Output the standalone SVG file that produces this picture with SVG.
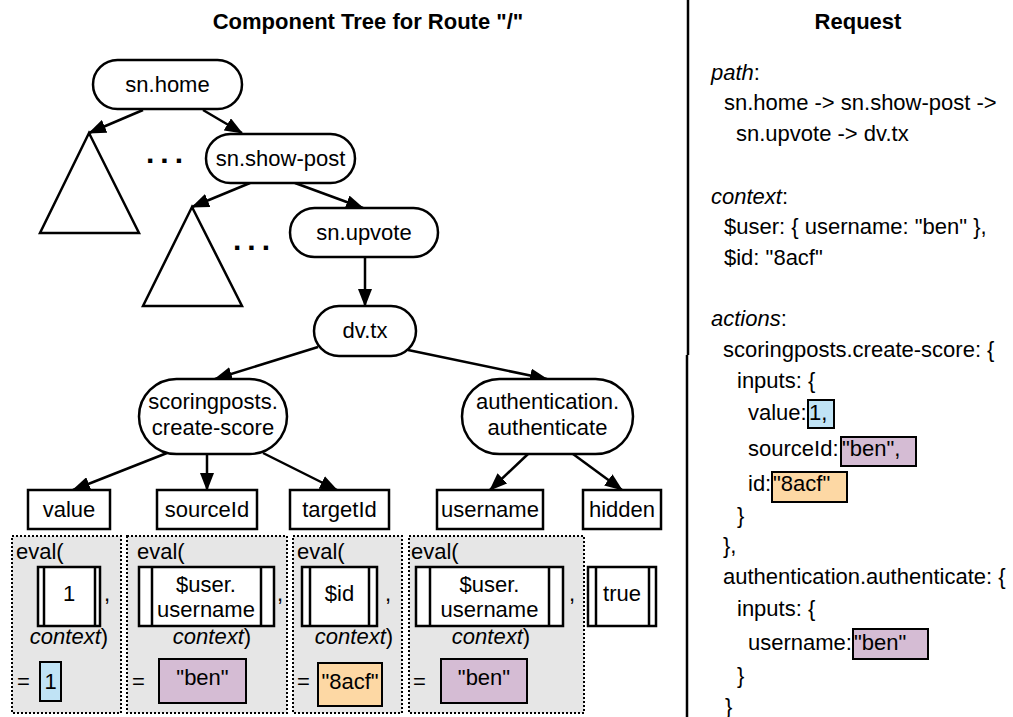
<svg xmlns="http://www.w3.org/2000/svg" width="1013" height="717" viewBox="0 0 1013 717">
<style>
.t{font-family:"Liberation Sans",Arial,sans-serif;font-size:22px;fill:#000}
.m{text-anchor:middle}
.b{font-weight:bold}
.i{font-style:italic}
.n{fill:#fff;stroke:#000;stroke-width:2.5}
.c{stroke:#000;stroke-width:2.5;fill:none;marker-end:url(#ah)}
.p{fill:#e6e6e6;stroke:#000;stroke-width:2;stroke-dasharray:2 2}
.cb{fill:#fff;stroke:#000;stroke-width:2.5}
.bl{fill:#c0e3f5;stroke:#000;stroke-width:2}
.pu{fill:#d5bcd4;stroke:#000;stroke-width:2}
.or{fill:#fdd8a4;stroke:#000;stroke-width:2}
.dots{font-family:"Liberation Sans",Arial,sans-serif;font-size:30px;font-weight:bold;letter-spacing:6px}
</style>
<defs>
<marker id="ah" markerUnits="userSpaceOnUse" markerWidth="18" markerHeight="14" viewBox="0 0 18 14" refX="17" refY="7" orient="auto">
<path d="M0,0 L18,7 L0,14 z" fill="#000"/>
</marker>
</defs>
<rect width="1013" height="717" fill="#fff"/>

<text class="t b m" x="368" y="29">Component Tree for Route "/"</text>
<text class="t b m" x="858" y="29">Request</text>
<g id="divider">
<line x1="688" y1="0" x2="688" y2="355" stroke="#000" stroke-width="2.5"/>
<line x1="687" y1="355" x2="687" y2="717" stroke="#000" stroke-width="2.5"/>
</g>

<g id="connectors">
<line class="c" x1="143" y1="110" x2="89" y2="133"/>
<line class="c" x1="203" y1="110" x2="242" y2="133"/>
<line class="c" x1="250" y1="183" x2="192" y2="207"/>
<line class="c" x1="295" y1="183" x2="363" y2="208"/>
<line class="c" x1="365" y1="257" x2="365" y2="306"/>
<line class="c" x1="318" y1="347" x2="215" y2="379"/>
<line class="c" x1="408" y1="350" x2="547" y2="379"/>
<line class="c" x1="167" y1="453" x2="73" y2="490"/>
<line class="c" x1="207" y1="454" x2="207" y2="490"/>
<line class="c" x1="263" y1="453" x2="337" y2="490"/>
<line class="c" x1="528" y1="454" x2="490" y2="490"/>
<line class="c" x1="573" y1="454" x2="622" y2="490"/>
</g>

<g id="sn-home"><rect class="n" x="93" y="60" width="149" height="49" rx="24.5"/><text class="t m" x="167.5" y="92">sn.home</text></g>
<g id="subtree-1"><polygon class="n" points="89,133 40,233 139,233"/></g>
<g id="dots-1"><text class="dots" x="146" y="163">...</text></g>
<g id="sn-show-post"><rect class="n" x="206" y="134" width="149" height="49" rx="24.5"/><text class="t m" x="280.5" y="166">sn.show-post</text></g>
<g id="subtree-2"><polygon class="n" points="192,207 143,306 242,306"/></g>
<g id="dots-2"><text class="dots" x="233" y="250">...</text></g>
<g id="sn-upvote"><rect class="n" x="290" y="208" width="148" height="49" rx="24.5"/><text class="t m" x="364" y="240">sn.upvote</text></g>
<g id="dv-tx"><rect class="n" x="314" y="306" width="102" height="50" rx="25"/><text class="t m" x="365" y="338">dv.tx</text></g>
<g id="scoringposts"><rect class="n" x="139" y="379" width="148" height="75" rx="37.5"/><text class="t m" x="213" y="409">scoringposts.</text><text class="t m" x="213" y="435">create-score</text></g>
<g id="authentication"><rect class="n" x="462" y="379" width="171" height="75" rx="37.5"/><text class="t m" x="547.5" y="409">authentication.</text><text class="t m" x="547.5" y="435">authenticate</text></g>

<g id="leaf-value"><rect class="n" x="28" y="490" width="82" height="39"/><text class="t m" x="69" y="517">value</text></g>
<g id="leaf-sourceId"><rect class="n" x="157" y="490" width="100" height="39"/><text class="t m" x="207" y="517">sourceId</text></g>
<g id="leaf-targetId"><rect class="n" x="290" y="490" width="99" height="39"/><text class="t m" x="339.5" y="517">targetId</text></g>
<g id="leaf-username"><rect class="n" x="437" y="490" width="106" height="39"/><text class="t m" x="490" y="517">username</text></g>
<g id="leaf-hidden"><rect class="n" x="583" y="490" width="78" height="39"/><text class="t m" x="622" y="517">hidden</text></g>

<g id="eval-value">
<rect class="p" x="12" y="536" width="109" height="177"/>
<text class="t" x="16" y="559">eval(</text>
<rect class="cb" x="38" y="567" width="62" height="59"/>
<line x1="44" y1="567" x2="44" y2="626" stroke="#000" stroke-width="2.5"/>
<line x1="95" y1="567" x2="95" y2="626" stroke="#000" stroke-width="2.5"/>
<text class="t m" x="69" y="601">1</text>
<text class="t" x="104" y="601">,</text>
<text class="t m" x="69" y="644"><tspan class="i">context</tspan>)</text>
<text class="t" x="17" y="689">=</text>
<rect class="bl" x="40" y="662" width="21" height="39"/>
<text class="t m" x="50.5" y="689">1</text>
</g>

<g id="eval-sourceId">
<rect class="p" x="127" y="536" width="160" height="177"/>
<text class="t" x="137" y="559">eval(</text>
<rect class="cb" x="139" y="567" width="135" height="59"/>
<line x1="152" y1="567" x2="152" y2="626" stroke="#000" stroke-width="2.5"/>
<line x1="261" y1="567" x2="261" y2="626" stroke="#000" stroke-width="2.5"/>
<text class="t m" x="206" y="592">$user.</text>
<text class="t m" x="206" y="617">username</text>
<text class="t" x="277" y="601">,</text>
<text class="t m" x="212" y="644"><tspan class="i">context</tspan>)</text>
<text class="t" x="132" y="689">=</text>
<rect class="pu" x="159" y="659" width="87" height="44"/>
<text class="t m" x="202.5" y="685">"ben"</text>
</g>

<g id="eval-targetId">
<rect class="p" x="293" y="536" width="109" height="177"/>
<text class="t" x="297" y="559">eval(</text>
<rect class="cb" x="302" y="567" width="75" height="59"/>
<line x1="310" y1="567" x2="310" y2="626" stroke="#000" stroke-width="2.5"/>
<line x1="369" y1="567" x2="369" y2="626" stroke="#000" stroke-width="2.5"/>
<text class="t m" x="339.5" y="601">$id</text>
<text class="t" x="385" y="601">,</text>
<text class="t m" x="354" y="644"><tspan class="i">context</tspan>)</text>
<text class="t" x="297" y="689">=</text>
<rect class="or" x="318" y="663" width="64" height="43"/>
<text class="t m" x="350" y="689">"8acf"</text>
</g>

<g id="eval-username">
<rect class="p" x="409" y="536" width="175" height="177"/>
<text class="t" x="411" y="559">eval(</text>
<rect class="cb" x="416" y="567" width="147" height="59"/>
<line x1="430" y1="567" x2="430" y2="626" stroke="#000" stroke-width="2.5"/>
<line x1="549" y1="567" x2="549" y2="626" stroke="#000" stroke-width="2.5"/>
<text class="t m" x="489.5" y="592">$user.</text>
<text class="t m" x="489.5" y="617">username</text>
<text class="t" x="569" y="601">,</text>
<text class="t m" x="491" y="644"><tspan class="i">context</tspan>)</text>
<text class="t" x="413" y="689">=</text>
<rect class="pu" x="441" y="659" width="86" height="44"/>
<text class="t m" x="484" y="685">"ben"</text>
</g>

<g id="value-hidden">
<rect class="cb" x="588" y="567" width="68" height="59"/>
<line x1="596" y1="567" x2="596" y2="626" stroke="#000" stroke-width="2.5"/>
<line x1="649" y1="567" x2="649" y2="626" stroke="#000" stroke-width="2.5"/>
<text class="t m" x="622" y="601">true</text>
</g>

<g id="request">
<text class="t" x="711" y="80"><tspan class="i">path</tspan>:</text>
<text class="t" x="724" y="110">sn.home -&gt; sn.show-post -&gt;</text>
<text class="t" x="736" y="141">sn.upvote -&gt; dv.tx</text>
<text class="t" x="711" y="204"><tspan class="i">context</tspan>:</text>
<text class="t" x="724" y="234">$user: { username: "ben" },</text>
<text class="t" x="724" y="265">$id: "8acf"</text>
<text class="t" x="711" y="326"><tspan class="i">actions</tspan>:</text>
<text class="t" x="723" y="357">scoringposts.create-score: {</text>
<text class="t" x="737" y="388">inputs: {</text>
<text class="t" x="748" y="420">value:</text>
<rect class="bl" x="808" y="400" width="26" height="28"/>
<text class="t" x="809" y="420">1,</text>
<text class="t" x="748" y="456">sourceId:</text>
<rect class="pu" x="841" y="437" width="75" height="29"/>
<text class="t" x="842" y="456">"ben",</text>
<text class="t" x="748" y="491">id:</text>
<rect class="or" x="772" y="472" width="75" height="30"/>
<text class="t" x="773" y="491">"8acf"</text>
<text class="t" x="737" y="523">}</text>
<text class="t" x="723" y="553">},</text>
<text class="t" x="723" y="584">authentication.authenticate: {</text>
<text class="t" x="737" y="616">inputs: {</text>
<text class="t" x="748" y="650">username:</text>
<rect class="pu" x="853" y="629" width="75" height="30"/>
<text class="t" x="854" y="650">"ben"</text>
<text class="t" x="737" y="683">}</text>
<text class="t" x="725" y="714">}</text>
</g>
</svg>
